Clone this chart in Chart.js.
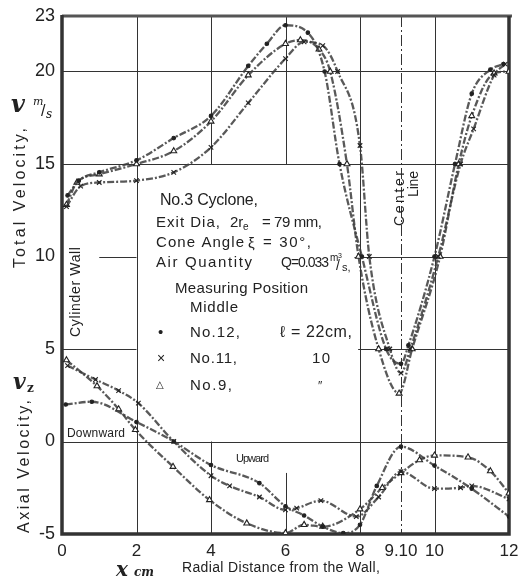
<!DOCTYPE html>
<html>
<head>
<meta charset="utf-8">
<script src="https://cdn.jsdelivr.net/npm/chart.js@4.4.0/dist/chart.umd.min.js"></script>
<style>
  html, body { margin:0; padding:0; background:#fff; }
  #wrap { width:518px; height:579px; position:relative; }
</style>
</head>
<body>
<div id="wrap"><canvas id="chart"></canvas></div>
<script>
// ---------- DATA ----------
const X_TICKS = [0, 2, 4, 6, 8, 9.1, 10, 12];
const Y_TICKS = [-5, 0, 5, 10, 15, 20, 23];

// total velocity v (m/s)
const TOT12_X = [0.15, 0.45, 1.0, 2.0, 3.0, 4.0, 5.0, 5.5, 6.0, 6.6, 7.05, 7.45, 8.05, 8.7, 9.1, 9.3, 10.0, 10.55, 11.0, 11.5, 11.85];
const TOT12_V = [13.3, 14.1, 14.55, 15.2, 16.4, 17.6, 20.3, 21.5, 22.5, 22.1, 20.0, 15.0, 10.0, 5.0, 4.2, 5.2, 10.0, 15.0, 18.8, 20.1, 20.4];
const TOT11_X = [0.12, 0.5, 1.0, 2.0, 3.0, 4.0, 5.0, 6.0, 6.5, 7.0, 7.4, 8.0, 8.25, 8.8, 9.1, 9.35, 10.1, 10.7, 11.05, 11.6, 11.9];
const TOT11_V = [12.7, 13.8, 14.0, 14.1, 14.55, 15.9, 18.3, 20.7, 21.6, 21.4, 20.0, 16.0, 10.0, 5.0, 3.7, 5.0, 10.0, 15.0, 16.9, 19.8, 20.4];
const TOT9_X  = [0.12, 0.4, 1.0, 2.0, 3.0, 4.0, 5.0, 6.0, 6.4, 6.9, 7.2, 7.65, 7.96, 8.5, 9.05, 9.4, 10.15, 10.65, 11.0, 11.6, 12.0];
const TOT9_V  = [12.8, 14.0, 14.45, 15.0, 15.7, 17.3, 19.8, 21.5, 21.7, 21.2, 20.0, 15.0, 10.0, 5.0, 2.6, 5.0, 10.0, 15.0, 17.6, 19.9, 20.0];

// axial velocity vz (m/s)
const AX12_X = [0.1, 0.8, 2.0, 3.0, 4.0, 5.3, 6.0, 6.5, 7.0, 7.55, 8.0, 8.45, 9.1, 10.0, 11.0, 12.0];
const AX12_V = [2.0, 2.15, 1.05, 0.0, -1.27, -2.25, -3.5, -4.0, -4.6, -4.95, -4.5, -2.4, -0.28, -1.3, -2.55, -4.06];
const AX11_X = [0.15, 0.9, 1.52, 2.05, 3.0, 4.0, 4.5, 5.3, 6.0, 6.3, 6.95, 7.9, 8.5, 9.1, 10.0, 10.7, 11.0, 12.0];
const AX11_V = [4.1, 3.35, 2.75, 2.07, 0.0, -1.85, -2.4, -3.0, -3.7, -3.6, -3.2, -4.06, -3.0, -1.63, -2.55, -2.5, -2.4, -3.1];
const AX9_X  = [0.12, 0.94, 1.52, 1.97, 2.98, 3.96, 4.96, 6.0, 6.5, 7.0, 8.0, 8.6, 9.1, 9.6, 10.0, 10.9, 11.5, 12.0];
const AX9_V  = [4.4, 3.0, 1.75, 0.63, -1.36, -3.16, -4.42, -4.95, -4.5, -4.6, -3.66, -2.5, -1.7, -1.0, -0.75, -0.85, -1.6, -2.8];

// ---------- HELPERS ----------
const pts = (xs, vs) => xs.map((x, i) => ({ x: x, y: vs[i] }));
const LINE = 'rgba(60,60,60,0.85)';

function series(xs, vs, style) {
  const base = {
    data: pts(xs, vs),
    borderColor: LINE,
    borderWidth: 2.3,
    borderDash: [7, 2, 2, 2],
    cubicInterpolationMode: 'monotone',
    pointBorderColor: '#222',
    pointBorderWidth: 1.1,
    showLine: true,
    fill: false
  };
  if (style === 'dot') return { ...base, pointStyle: 'circle', pointRadius: 1.8, pointBackgroundColor: '#222' };
  if (style === 'x') return { ...base, pointStyle: 'crossRot', pointRadius: 3.2, pointBackgroundColor: '#222' };
  return { ...base, pointStyle: 'triangle', pointRadius: 3.4, pointBackgroundColor: '#fff' };
}

// ---------- GRID (broken by the notes, as in the drawing) ----------
const GRID_H = [[20, 0, 12], [15, 0, 12], [10, 1.0, 2], [10, 7.85, 12], [5, 0, 2], [5, 7.95, 12], [0, 0, 12]];
const GRID_V = [[2, -5, 23], [4, 15, 23], [4, -5, 0], [6, 15, 23], [6, -5, -1.7], [8, -5, 23], [10, -5, 23]];

const gridPlugin = {
  id: 'grid',
  beforeDatasetsDraw(chart) {
    const { ctx, chartArea: a, scales: { x, y } } = chart;
    ctx.save();
    ctx.strokeStyle = '#333';
    ctx.lineWidth = 1;
    GRID_H.forEach(([v, x0, x1]) => {
      ctx.beginPath();
      ctx.moveTo(x.getPixelForValue(x0), Math.round(y.getPixelForValue(v)) + 0.5);
      ctx.lineTo(x.getPixelForValue(x1), Math.round(y.getPixelForValue(v)) + 0.5);
      ctx.stroke();
    });
    GRID_V.forEach(([v, y0, y1]) => {
      ctx.beginPath();
      ctx.moveTo(Math.round(x.getPixelForValue(v)) + 0.5, y.getPixelForValue(y0));
      ctx.lineTo(Math.round(x.getPixelForValue(v)) + 0.5, y.getPixelForValue(y1));
      ctx.stroke();
    });
    // center line, dash-dot
    ctx.setLineDash([11, 3, 2, 3]);
    ctx.beginPath();
    const cx = Math.round(x.getPixelForValue(9.1)) + 0.5;
    ctx.moveTo(cx, a.top);
    ctx.lineTo(cx, a.bottom);
    ctx.stroke();
    ctx.setLineDash([]);
    // frame
    ctx.strokeStyle = '#555';
    ctx.lineWidth = 3;
    ctx.beginPath();
    ctx.moveTo(a.left, a.top); ctx.lineTo(a.right + 3, a.top);
    ctx.stroke();
    ctx.strokeStyle = '#333';
    ctx.lineWidth = 3.5;
    ctx.beginPath();
    ctx.moveTo(a.left, a.top - 1); ctx.lineTo(a.left, a.bottom);
    ctx.lineTo(a.right, a.bottom); ctx.lineTo(a.right, a.top);
    ctx.stroke();
    ctx.restore();
  }
};

// ---------- TEXT ----------
const FONT = '"Liberation Sans", "DejaVu Sans", sans-serif';
const SERIF = '"DejaVu Serif", "Liberation Serif", serif';

// draw text; if w is given, adjust the letter spacing so the text spans w px
function txt(ctx, s, x, y, size, opts = {}) {
  ctx.save();
  ctx.font = (opts.style || '') + ' ' + size + 'px ' + (opts.family || FONT);
  ctx.fillStyle = '#222';
  ctx.textAlign = 'left';
  ctx.textBaseline = 'alphabetic';
  if (opts.w) {
    const nat = ctx.measureText(s).width;
    const ls = Math.max(-1, (opts.w - nat) / Math.max(1, s.length - 1));
    ctx.letterSpacing = ls.toFixed(2) + 'px';
  }
  ctx.translate(x, y);
  if (opts.rot) ctx.rotate(opts.rot);
  ctx.fillText(s, 0, 0);
  ctx.restore();
}

const notesPlugin = {
  id: 'notes',
  afterDraw(chart) {
    const ctx = chart.ctx;
    const up = -Math.PI / 2;
    // conditions block
    txt(ctx, 'No.3 Cyclone,', 160, 205, 16, { w: 98 });
    txt(ctx, 'Exit Dia,', 156, 227, 15, { w: 64 });
    txt(ctx, '2r', 230, 227, 15);
    txt(ctx, 'e', 243, 230, 10);
    txt(ctx, '= 79 mm,', 262, 227, 15, { w: 60 });
    txt(ctx, 'Cone Angle', 156, 247, 15, { w: 88 });
    txt(ctx, '\u03BE', 248, 248, 15);
    txt(ctx, '= 30\u00B0,', 263, 247, 15, { w: 48 });
    txt(ctx, 'Air Quantity', 156, 267, 15, { w: 96 });
    txt(ctx, 'Q=0.033', 281, 267, 14, { w: 46 });
    txt(ctx, 'm', 330, 261, 10);
    txt(ctx, '3', 338, 258, 7);
    txt(ctx, '/', 336, 270, 14);
    txt(ctx, 's,', 342, 271, 11);
    txt(ctx, 'Measuring Position', 175, 293, 15, { w: 133 });
    txt(ctx, 'Middle', 190, 312, 15, { w: 48 });
    txt(ctx, '\u2022', 158, 337, 15);
    txt(ctx, 'No.12,', 190, 337, 15, { w: 50 });
    txt(ctx, '\u2113 = 22cm,', 280, 337, 16, { w: 72 });
    txt(ctx, '\u00D7', 157, 363, 14);
    txt(ctx, 'No.11,', 190, 363, 15, { w: 47 });
    txt(ctx, '10', 312, 363, 15, { w: 18 });
    txt(ctx, '\u25B3', 156, 388, 10);
    txt(ctx, 'No.9,', 190, 390, 15, { w: 42 });
    txt(ctx, '\u2033', 318, 390, 12);

    // rotated labels in the plot
    txt(ctx, 'Cylinder Wall', 80, 337, 14, { rot: up, w: 90 });
    txt(ctx, 'Center', 404, 226, 14, { rot: up, w: 55 });
    txt(ctx, 'Line', 418, 197, 14, { rot: up, w: 26 });
    txt(ctx, 'Downward', 67, 437, 12, { w: 58 });
    txt(ctx, 'Upward', 236, 462, 11, { w: 33 });

    // axis titles
    txt(ctx, 'Total Velocity,', 25, 268, 16, { rot: up, w: 140 });
    txt(ctx, 'Axial Velocity,', 29, 533, 16, { rot: up, w: 133 });
    txt(ctx, 'v', 11, 112, 24, { family: SERIF, style: 'italic bold' });
    txt(ctx, 'm', 33, 105, 11, { family: SERIF, style: 'italic' });
    txt(ctx, '/', 41, 116, 16);
    txt(ctx, 's', 46, 118, 12, { family: SERIF, style: 'italic' });
    txt(ctx, 'v', 13, 389, 22, { family: SERIF, style: 'italic bold' });
    txt(ctx, 'z', 27, 392, 12, { family: SERIF, style: 'bold' });
    txt(ctx, 'x', 116, 576, 20, { family: SERIF, style: 'italic bold' });
    txt(ctx, 'cm', 134, 576, 12, { family: SERIF, style: 'italic bold' });
    txt(ctx, 'Radial Distance from the Wall,', 182, 572, 14, { w: 198 });
  }
};

// ---------- CHART ----------
new Chart(document.getElementById('chart'), {
  type: 'scatter',
  data: {
    datasets: [
      series(TOT12_X, TOT12_V, 'dot'),
      series(TOT11_X, TOT11_V, 'x'),
      series(TOT9_X, TOT9_V, 'tri'),
      series(AX12_X, AX12_V, 'dot'),
      series(AX11_X, AX11_V, 'x'),
      series(AX9_X, AX9_V, 'tri')
    ]
  },
  options: {
    responsive: true,
    maintainAspectRatio: false,
    animation: false,
    layout: { padding: { left: 0, right: 9, top: 16, bottom: 0 } },
    plugins: { legend: { display: false }, tooltip: { enabled: false } },
    scales: {
      x: {
        type: 'linear', min: 0, max: 12,
        afterBuildTicks: s => { s.ticks = X_TICKS.map(v => ({ value: v })); },
        afterFit: s => { s.height = 45; s.paddingLeft = 0; s.paddingRight = 0; },
        grid: { display: false, drawTicks: false },
        border: { display: false },
        ticks: { color: '#222', padding: 7, maxRotation: 0, autoSkip: false,
                 font: { family: FONT, size: 17 } }
      },
      y: {
        type: 'linear', min: -5, max: 23,
        afterBuildTicks: s => { s.ticks = Y_TICKS.map(v => ({ value: v })); },
        afterFit: s => { s.width = 62; s.paddingTop = 0; s.paddingBottom = 0; },
        grid: { display: false, drawTicks: false },
        border: { display: false },
        ticks: { color: '#222', padding: 7, autoSkip: false,
                 font: { family: FONT, size: 18 } }
      }
    }
  },
  plugins: [gridPlugin, notesPlugin]
});
</script>
</body>
</html>
